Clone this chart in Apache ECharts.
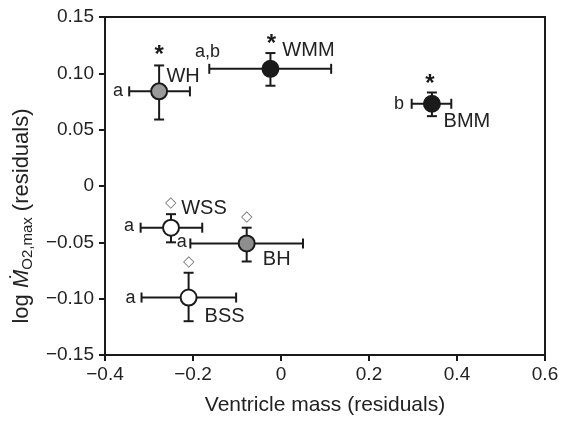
<!DOCTYPE html>
<html>
<head>
<meta charset="utf-8">
<script src="https://cdn.jsdelivr.net/npm/echarts@6/dist/echarts.min.js"></script>
<style>html,body{margin:0;padding:0;background:#fff}#c{width:565px;height:423px}</style>
</head>
<body>
<div id="c"></div>
<script>
// ---- data ----
var groups    = ['WH', 'WMM', 'BMM', 'WSS', 'BH', 'BSS'];
var xMean     = [-0.277, -0.024, 0.343, -0.250, -0.078, -0.210];
var yMean     = [0.084, 0.104, 0.073, -0.037, -0.051, -0.099];
var xErrLow   = [-0.345, -0.163, 0.297, -0.319, -0.206, -0.317];
var xErrHigh  = [-0.207, 0.114, 0.387, -0.179, 0.050, -0.102];
var yErrLow   = [0.059, 0.089, 0.062, -0.050, -0.067, -0.120];
var yErrHigh  = [0.107, 0.118, 0.083, -0.025, -0.037, -0.077];
var letters   = ['a', 'a,b', 'b', 'a', 'a', 'a'];
var marks     = ['*', '*', '*', '\u25C7', '\u25C7', '\u25C7'];
var xTickLabels = ['\u22120.4', '\u22120.2', '0', '0.2', '0.4', '0.6'];
var yTickLabels = ['\u22120.15', '\u22120.10', '\u22120.05', '0', '0.05', '0.10', '0.15'];

// ---- styles (pixel offsets of annotations relative to each point) ----
var fills = ['#9a9a9a', '#1a1a1a', '#1a1a1a', '#ffffff', '#8e8e8e', '#ffffff'];
var markOff   = [[0, -41], [1, -29], [-2, -24], [0, -25], [0, -27], [0, -36]];
var nameOff   = [[24, -15], [38, -18], [35, 18], [33, -19], [30, 16], [36, 19]];
var letterOff = [[-41, 0], [-63, -17], [-33, 0], [-42, -2], [-65, -1], [-58, 0]];

var FONT = 'Liberation Sans';
var INK = '#1a1a1a';

var errData = groups.map(function (g, i) {
  return [xMean[i], yMean[i], xErrLow[i], xErrHigh[i], yErrLow[i], yErrHigh[i]];
});
var ptData = groups.map(function (g, i) {
  return { value: [xMean[i], yMean[i]], itemStyle: { color: fills[i] } };
});

function renderErr(params, api) {
  var i = params.dataIndex;
  var x = api.value(0), y = api.value(1);
  var c = api.coord([x, y]);
  var l = api.coord([api.value(2), y]);
  var r = api.coord([api.value(3), y]);
  var b = api.coord([x, api.value(4)]);
  var t = api.coord([x, api.value(5)]);
  var cap = 5;
  var st = { stroke: INK, lineWidth: 2 };
  var ch = [
    { type: 'line', shape: { x1: l[0], y1: c[1], x2: r[0], y2: c[1] }, style: st },
    { type: 'line', shape: { x1: l[0], y1: c[1] - cap, x2: l[0], y2: c[1] + cap }, style: st },
    { type: 'line', shape: { x1: r[0], y1: c[1] - cap, x2: r[0], y2: c[1] + cap }, style: st },
    { type: 'line', shape: { x1: c[0], y1: t[1], x2: c[0], y2: b[1] }, style: st },
    { type: 'line', shape: { x1: c[0] - cap, y1: t[1], x2: c[0] + cap, y2: t[1] }, style: st },
    { type: 'line', shape: { x1: c[0] - cap, y1: b[1], x2: c[0] + cap, y2: b[1] }, style: st }
  ];
  var isStar = marks[i] === '*';
  ch.push({ type: 'text', x: c[0] + markOff[i][0], y: c[1] + markOff[i][1] + (isStar ? 5 : 0),
    style: { text: marks[i], fill: isStar ? INK : '#777', font: (isStar ? 'bold 24px ' : '15px ') + FONT,
      align: 'center', verticalAlign: 'middle' } });
  ch.push({ type: 'text', x: c[0] + nameOff[i][0], y: c[1] + nameOff[i][1],
    style: { text: groups[i], fill: '#222', font: '20px ' + FONT, align: 'center', verticalAlign: 'middle' } });
  ch.push({ type: 'text', x: c[0] + letterOff[i][0], y: c[1] + letterOff[i][1],
    style: { text: letters[i], fill: '#222', font: '18px ' + FONT, align: 'center', verticalAlign: 'middle' } });
  return { type: 'group', children: ch };
}

var axisCommon = {
  type: 'value',
  splitLine: { show: false },
  axisLine: { show: true, onZero: false, lineStyle: { color: INK, width: 2 } },
  axisTick: { show: true, length: 6, lineStyle: { color: INK, width: 2 } }
};

var chart = echarts.init(document.getElementById('c'));
chart.setOption({
  animation: false,
  backgroundColor: '#fff',
  grid: { left: 105, right: 20, top: 17, bottom: 68, show: true, borderColor: INK, borderWidth: 2 },
  xAxis: Object.assign({}, axisCommon, {
    min: -0.4, max: 0.6, interval: 0.2,
    axisLabel: { color: '#222', fontSize: 19, fontFamily: FONT, margin: 10,
      formatter: function (v) { return xTickLabels[Math.round((v + 0.4) / 0.2)]; } },
    name: 'Ventricle mass (residuals)', nameLocation: 'middle', nameGap: 40,
    nameTextStyle: { color: '#222', fontSize: 21, fontFamily: FONT }
  }),
  yAxis: Object.assign({}, axisCommon, {
    min: -0.15, max: 0.15, interval: 0.05,
    axisLabel: { color: '#222', fontSize: 19, fontFamily: FONT, margin: 11,
      formatter: function (v) { return yTickLabels[Math.round((v + 0.15) / 0.05)]; } },
    name: '{a|log }{m|M\u0307}{s|O2,max}{a| (residuals)}',
    nameLocation: 'middle', nameGap: 70, nameRotate: 90,
    nameTextStyle: {
      color: '#222', fontSize: 22, fontFamily: FONT, padding: [0, 60, 0, 0],
      rich: {
        a: { fontSize: 22, fontFamily: FONT, color: '#222', lineHeight: 26 },
        m: { fontSize: 22, fontFamily: FONT, fontStyle: 'italic', color: '#222', lineHeight: 26 },
        s: { fontSize: 15, fontFamily: FONT, color: '#222', verticalAlign: 'bottom', lineHeight: 26, padding: [9, 0, 0, 0] }
      }
    }
  }),
  series: [
    { type: 'custom', renderItem: renderErr, data: errData, z: 2,
      encode: { x: 0, y: 1 } },
    { type: 'scatter', data: ptData, symbol: 'circle', symbolSize: 16, z: 3,
      itemStyle: { borderColor: INK, borderWidth: 2, opacity: 1 } }
  ]
});
</script>
</body>
</html>
